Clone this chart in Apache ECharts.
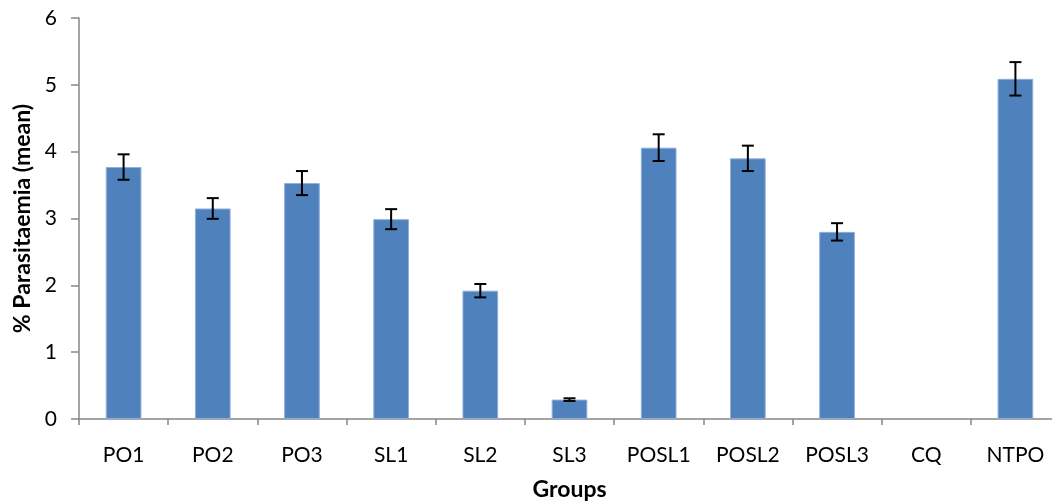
<!DOCTYPE html>
<html>
<head>
<meta charset="utf-8">
<script src="https://cdn.jsdelivr.net/npm/echarts@6/dist/echarts.min.js"></script>
<style>
html,body{margin:0;padding:0;background:#fff;overflow:hidden;}
#chart{width:1052px;height:503px;}
</style>
</head>
<body>
<div id="chart"></div>
<script>
const categories = ['PO1','PO2','PO3','SL1','SL2','SL3','POSL1','POSL2','POSL3','CQ','NTPO'];
const means = [3.77, 3.15, 3.53, 2.99, 1.92, 0.29, 4.06, 3.90, 2.80, 0, 5.09];
const errors = [0.19, 0.155, 0.18, 0.15, 0.10, 0.02, 0.20, 0.19, 0.13, 0, 0.25];
const yTicks = [0, 1, 2, 3, 4, 5, 6];

const font = 'Lato, "Open Sans", sans-serif';
const errData = categories.map((c, i) => [i, means[i] - errors[i], means[i] + errors[i]]);
const barData = means.map(v => v === 0 ? { value: v, itemStyle: { borderWidth: 0 } } : v);

const chart = echarts.init(document.getElementById('chart'));
chart.setOption({
  animation: false,
  backgroundColor: '#fff',
  grid: { left: 79, top: 18, width: 981, height: 401, containLabel: false, outerBoundsMode: 'none' },
  xAxis: {
    type: 'category',
    data: categories,
    name: 'Groups',
    nameLocation: 'middle',
    nameGap: 59,
    nameTextStyle: { fontFamily: font, fontSize: 23, fontWeight: 'bold', color: '#000' },
    axisLine: { lineStyle: { color: '#868686', width: 1.5 } },
    axisTick: { show: true, length: 6, lineStyle: { color: '#868686', width: 1.5 } },
    axisLabel: { fontFamily: font, fontSize: 21, color: '#000', margin: 26, interval: 0 },
    splitLine: { show: false }
  },
  yAxis: {
    type: 'value',
    min: yTicks[0],
    max: yTicks[yTicks.length - 1],
    interval: 1,
    name: '% Parasitaemia (mean)',
    nameLocation: 'middle',
    nameGap: 44,
    nameRotate: 90,
    nameTextStyle: { fontFamily: font, fontSize: 23, fontWeight: 'bold', color: '#000' },
    axisLine: { show: true, lineStyle: { color: '#868686', width: 1.5 } },
    axisTick: { show: true, length: 8, lineStyle: { color: '#868686', width: 1.5 } },
    axisLabel: { fontFamily: font, fontSize: 21, color: '#000', margin: 22 },
    splitLine: { show: false }
  },
  series: [
    {
      type: 'bar',
      data: barData,
      barWidth: '40%',
      itemStyle: { color: '#4F81BD', borderColor: '#8FAEDA', borderWidth: 1 }
    },
    {
      type: 'custom',
      data: errData,
      z: 10,
      renderItem: function (params, api) {
        const x = api.value(0);
        if (api.value(2) - api.value(1) === 0) return null;
        const lo = api.coord([x, api.value(1)]);
        const hi = api.coord([x, api.value(2)]);
        const hw = 6;
        const style = { stroke: '#000', lineWidth: 2 };
        return {
          type: 'group',
          children: [
            { type: 'line', shape: { x1: hi[0], y1: hi[1], x2: lo[0], y2: lo[1] }, style: style },
            { type: 'line', shape: { x1: hi[0] - hw, y1: hi[1], x2: hi[0] + hw, y2: hi[1] }, style: style },
            { type: 'line', shape: { x1: lo[0] - hw, y1: lo[1], x2: lo[0] + hw, y2: lo[1] }, style: style }
          ]
        };
      }
    }
  ]
});
</script>
</body>
</html>
